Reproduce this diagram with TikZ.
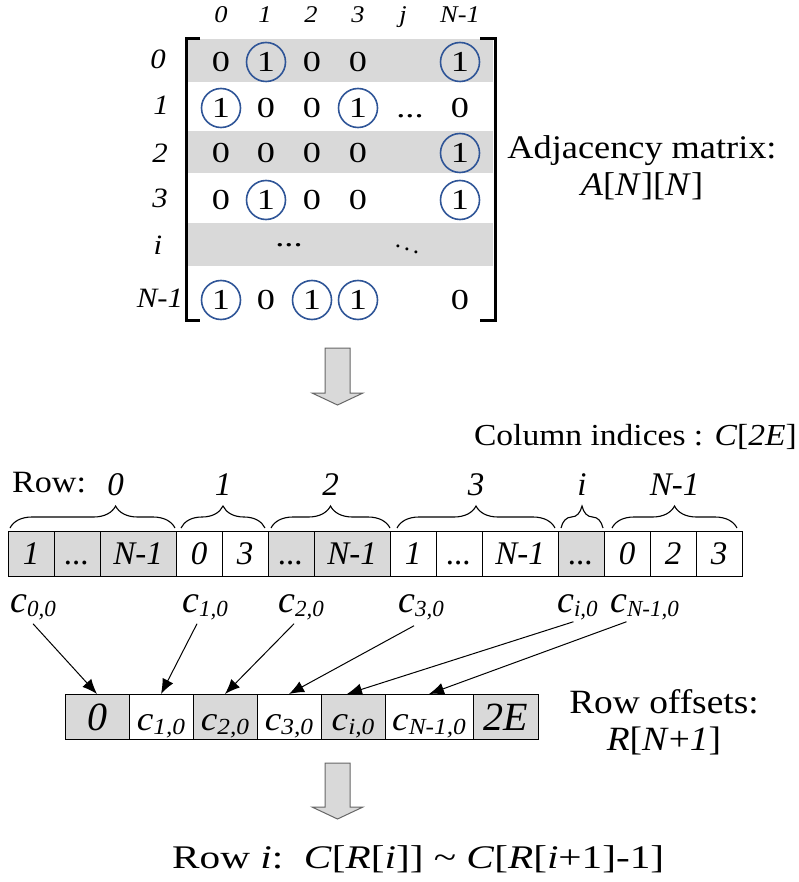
\documentclass[tikz,border=0pt]{standalone}
\usepackage{fontspec}
\setmainfont{Liberation Serif}
\newfontfamily\widefont[FakeStretch=1.1]{Liberation Serif}
\newfontfamily\widerfont[FakeStretch=1.25]{Liberation Serif}
\usetikzlibrary{positioning}
\usetikzlibrary{arrows.meta}
\usetikzlibrary{decorations.pathreplacing}

\definecolor{ringblue}{RGB}{47,85,151}
\definecolor{bandgray}{RGB}{217,217,217}
\newcommand{\fs}[1]{\fontsize{#1}{#1}\selectfont}
\newcommand{\cij}[1]{{\fs{38}\textit{c}}\raisebox{-4pt}{\fs{23}\textit{#1}}}
\newcommand{\cw}[1]{{\widefont\fs{34}\textit{c}}\raisebox{-4pt}{\widefont\fs{23}\textit{#1}}}

\begin{document}
\begin{tikzpicture}[x=1pt, y=-1pt,
    band/.style={fill=bandgray},
    bracket/.style={line width=3pt},
    colidx/.style={font=\widefont\fs{24}\itshape, inner sep=0, text height=16pt, text depth=0pt},
    rowidx/.style={font=\widefont\fs{28}\itshape, inner sep=0, text height=19pt, text depth=0pt},
    entry/.style={font=\widerfont\fs{29}, inner sep=0, text height=19.5pt, text depth=0pt},
    one/.style={entry, circle, draw=ringblue, line width=1.6pt, minimum size=39pt},
    bigtext/.style={font=\widefont\fontsize{33}{37}\selectfont, inner sep=0, align=center},
    cell/.style={draw, line width=0.9pt, outer sep=0, inner sep=0, minimum width=46pt, minimum height=45pt, font=\fs{33}\itshape, text height=22pt, text depth=0pt},
    wcell/.style={cell, minimum width=76pt},
    gcell/.style={fill=bandgray},
    rcell/.style={draw, line width=0.9pt, outer sep=0, inner sep=0, minimum width=64pt, minimum height=45pt, font=\fs{40}\itshape, text height=27pt, text depth=0pt},
    curly/.style={decorate, decoration={brace, amplitude=22pt}, line width=1.1pt},
    bracelbl/.style={midway, above=32pt, inner sep=0, font=\fs{33}\itshape},
    clbl/.style={inner sep=0, anchor=base west},
    ptr/.style={-{Latex[length=15pt, width=12pt]}, line width=1pt},
    bigarrow/.style={fill=bandgray, draw=black!60, line width=1pt},
  ]
  \useasboundingbox (0,0) rectangle (799,882);

  % Matrix
  \fill[band] (188,39) rectangle (493,82);
  \fill[band] (188,131) rectangle (493,173);
  \fill[band] (188,223) rectangle (493,266);
  \draw[bracket] (200,39) -- ++(-14,0) -- ++(0,281) -- ++(14,0);
  \draw[bracket] (480,39) -- ++(15,0) -- ++(0,281) -- ++(-15,0);

  \node[colidx] (h0) at (221,15) {0};
  \node[colidx] (h1) at (265,15) {1};
  \node[colidx] (h2) at (311,15) {2};
  \node[colidx] (h3) at (358,15) {3};
  \node[colidx] (hj) at (403,15) {j};
  \node[colidx] (hn) at (460,15) {N-1};

  \node[rowidx] (v0) at (158,59) {0};
  \node[rowidx] (v1) at (161,105) {1};
  \node[rowidx] (v2) at (160,153) {2};
  \node[rowidx] (v3) at (160,198) {3};
  \node[rowidx] (vi) at (158,245) {i};
  \node[rowidx] (vn) at (160,298) {N-1};

  \node[entry] (m00) at (221,62) {0};
  \node[one]   (m01) at (266,62) {1};
  \node[entry] (m02) at (312,62) {0};
  \node[entry] (m03) at (358,62) {0};
  \node[one]   (m05) at (460,62) {1};

  \node[one]   (m10) at (221,108) {1};
  \node[entry] (m11) at (266,108) {0};
  \node[entry] (m12) at (312,108) {0};
  \node[one]   (m13) at (358,108) {1};
  \node[entry] (m14) at (410,108) {...};
  \node[entry] (m15) at (460,108) {0};

  \node[entry] (m20) at (221,153) {0};
  \node[entry] (m21) at (266,153) {0};
  \node[entry] (m22) at (312,153) {0};
  \node[entry] (m23) at (358,153) {0};
  \node[one]   (m25) at (460,153) {1};

  \node[entry] (m30) at (221,200) {0};
  \node[one]   (m31) at (266,200) {1};
  \node[entry] (m32) at (312,200) {0};
  \node[entry] (m33) at (358,200) {0};
  \node[one]   (m35) at (460,200) {1};

  \node[entry] (mi1) at (289,237) {...};
  \node[inner sep=0, font=\fs{25}] (mi4) at (407,246) {$\ddots$};

  \node[one]   (mn0) at (221,300) {1};
  \node[entry] (mn1) at (266,300) {0};
  \node[one]   (mn2) at (312,300) {1};
  \node[one]   (mn3) at (358,300) {1};
  \node[entry] (mn5) at (460,300) {0};

  \node[bigtext] (adj) at (642,168) {Adjacency matrix:\\\textit{A}[\textit{N}][\textit{N}]};

  % first arrow
  \draw[bigarrow] (325,348) -- ++(25,0) -- ++(0,45) -- ++(13,0) -- ++(-25.5,12) -- ++(-25.5,-12) -- ++(13,0) -- cycle;

  % Column indices
  \node[bigtext, font=\widefont\fs{30.5}, anchor=base east] (colttl) at (797,445) {Column indices : \textit{C}[\textit{2E}]};
  \node[bigtext, font=\widefont\fs{31}, anchor=base west] (rowttl) at (12,492) {Row:};

  \node[cell, gcell] (ci1) at (31,553.5) {1};
  \node[cell, gcell, right=0pt of ci1] (ci2) {...};
  \node[wcell, gcell, right=0pt of ci2] (ci3) {N-1};
  \node[cell, right=0pt of ci3] (ci4) {0};
  \node[cell, right=0pt of ci4] (ci5) {3};
  \node[cell, gcell, right=0pt of ci5] (ci6) {...};
  \node[wcell, gcell, right=0pt of ci6] (ci7) {N-1};
  \node[cell, right=0pt of ci7] (ci8) {1};
  \node[cell, right=0pt of ci8] (ci9) {...};
  \node[wcell, right=0pt of ci9] (ci10) {N-1};
  \node[cell, gcell, right=0pt of ci10] (ci11) {...};
  \node[cell, right=0pt of ci11] (ci12) {0};
  \node[cell, right=0pt of ci12] (ci13) {2};
  \node[cell, right=0pt of ci13] (ci14) {3};

  % braces
  \draw[curly, decoration={aspect=0.64}] ([xshift=2pt, yshift=3pt]ci1.north west) -- ([xshift=-1pt, yshift=3pt]ci3.north east) node[bracelbl, pos=0.64] (b0) {0};
  \draw[curly] ([xshift=5pt, yshift=3pt]ci4.north west) -- ([xshift=-3pt, yshift=3pt]ci5.north east) node[bracelbl] (b1) {1};
  \draw[curly] ([xshift=3pt, yshift=3pt]ci6.north west) -- ([xshift=0pt, yshift=3pt]ci7.north east) node[bracelbl] (b2) {2};
  \draw[curly] ([xshift=7pt, yshift=3pt]ci8.north west) -- ([xshift=-3pt, yshift=3pt]ci10.north east) node[bracelbl] (b3) {3};
  \draw[curly] ([xshift=3pt, yshift=3pt]ci11.north west) -- ([xshift=-1pt, yshift=3pt]ci11.north east) node[bracelbl] (bi) {i};
  \draw[curly] ([xshift=8pt, yshift=3pt]ci12.north west) -- ([xshift=-5pt, yshift=3pt]ci14.north east) node[bracelbl] (bn) {N-1};

  \node[clbl] (lc0) at (10,612) {\cij{0,0}};
  \node[clbl] (lc1) at (182,612) {\cij{1,0}};
  \node[clbl] (lc2) at (278,612) {\cij{2,0}};
  \node[clbl] (lc3) at (398,612) {\cij{3,0}};
  \node[clbl] (lci) at (557,612) {\cij{i,0}};
  \node[clbl] (lcn) at (610,612) {\cij{N-1,0}};

  % Row offsets
  \node[rcell, gcell] (ro1) at (97,716.5) {0};
  \node[rcell, right=0pt of ro1] (ro2) {\cw{1,0}};
  \node[rcell, gcell, right=0pt of ro2] (ro3) {\cw{2,0}};
  \node[rcell, right=0pt of ro3] (ro4) {\cw{3,0}};
  \node[rcell, gcell, right=0pt of ro4] (ro5) {\cw{i,0}};
  \node[rcell, minimum width=88pt, right=0pt of ro5] (ro6) {\cw{N-1,0}};
  \node[rcell, gcell, minimum width=65pt, right=0pt of ro6] (ro7) {2E};

  \draw[ptr] ([yshift=-4pt]lc0.south) -- (ro1.north);
  \draw[ptr] ([xshift=-8pt, yshift=-4pt]lc1.south) -- (ro2.north);
  \draw[ptr] ([xshift=-7pt, yshift=-4pt]lc2.south) -- (ro3.north);
  \draw[ptr] ([xshift=-7pt, yshift=-6pt]lc3.south) -- (ro4.north);
  \draw[ptr] ([xshift=-4pt, yshift=-2pt]lci.south) -- ([xshift=-6pt]ro5.north);
  \draw[ptr] ([xshift=-18pt, yshift=-2pt]lcn.south) -- (ro6.north);

  \node[bigtext, font=\widefont\fontsize{34}{37}\selectfont] (offttl) at (664,722) {Row offsets:\\\textit{R}[\textit{N}+\textit{1}]};

  % second arrow
  \draw[bigarrow] (325,763) -- ++(25,0) -- ++(0,44) -- ++(13,0) -- ++(-25.5,12) -- ++(-25.5,-12) -- ++(13,0) -- cycle;

  \node[bigtext, font=\widerfont\fs{33}, anchor=base west] (rowi) at (172,868) {Row \textit{i}:\ \ \textit{C}[\textit{R}[\textit{i}]] \textasciitilde\ \textit{C}[\textit{R}[\textit{i}+1]-1]};
\end{tikzpicture}
\end{document}
